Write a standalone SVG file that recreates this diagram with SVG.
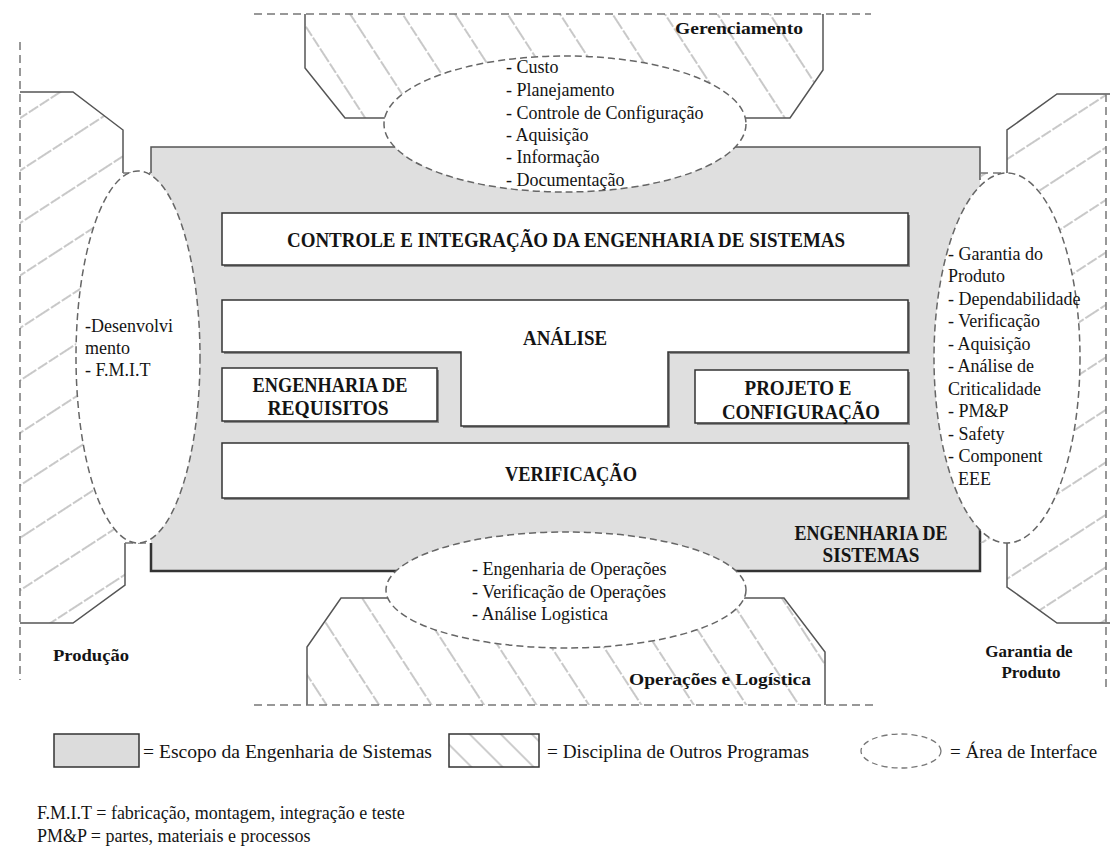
<svg xmlns="http://www.w3.org/2000/svg" width="1110" height="848" viewBox="0 0 1110 848">
<defs>
<style>
.t{font-family:"Liberation Serif","Times New Roman",serif;fill:#141414}
.l{font-size:18px}
.b{font-weight:bold}
.bx{font-size:20px;font-weight:bold;text-anchor:middle}
.lab{font-size:17px;font-weight:bold;text-anchor:middle}
.lg{font-size:19px}
.edge{fill:none;stroke:#555;stroke-width:1.5}
.dash{fill:none;stroke:#777;stroke-width:1.5;stroke-dasharray:8 5}
.ell{fill:#fff;stroke:#666;stroke-width:1.5;stroke-dasharray:7 4}
.box{fill:#fff;stroke:#333;stroke-width:1.5}
.shadow{fill:#888}
</style>
<pattern id="hBack" patternUnits="userSpaceOnUse" width="44" height="44" patternTransform="rotate(-33)">
<line x1="22" y1="0" x2="22" y2="44" stroke="#9c9c9c" stroke-width="1.1" stroke-dasharray="11 2"/>
</pattern>
<pattern id="hFwd" patternUnits="userSpaceOnUse" width="44" height="44" patternTransform="rotate(57)">
<line x1="22" y1="0" x2="22" y2="44" stroke="#9c9c9c" stroke-width="1.1" stroke-dasharray="11 2"/>
</pattern>
<pattern id="hLeg" patternUnits="userSpaceOnUse" width="22" height="22" patternTransform="rotate(-45)">
<line x1="11" y1="0" x2="11" y2="22" stroke="#9c9c9c" stroke-width="1"/>
</pattern>
</defs>
<rect width="1110" height="848" fill="#fff"/>

<g id="escopo-engenharia-sistemas">
<rect x="151" y="147" width="829" height="424" fill="#dfdfdf"/>
<path class="edge" d="M151,173 V147 H980 V180"/>
<path d="M151,543 V571 H980 V528" fill="none" stroke="#333" stroke-width="2.5"/>
</g>

<g id="gerenciamento">
<path d="M305,14 H823 V70 L790,118 H345 L305,68 Z" fill="url(#hBack)"/>
<path class="edge" d="M305,14 V68 L345,118 H386"/>
<path class="edge" d="M744,118 H790 L823,70 V14"/>
<line class="dash" x1="254" y1="14" x2="871" y2="14"/>
<text class="t lab" x="739" y="34" textLength="128" lengthAdjust="spacingAndGlyphs">Gerenciamento</text>
</g>

<g id="producao">
<path d="M20,92 H73 L123,130 V173 H151 V543 H125 V585 L73,623 H20 Z" fill="url(#hFwd)"/>
<path class="edge" d="M20,92 H73 L123,130 V173"/>
<path class="edge" d="M125,543 V585 L73,623 H20"/>
<line class="dash" x1="123" y1="173" x2="151" y2="173"/>
<line class="dash" x1="125" y1="543" x2="151" y2="543"/>
<line class="dash" x1="20" y1="42" x2="20" y2="680"/>
<text class="t lab" x="91" y="661" textLength="76" lengthAdjust="spacingAndGlyphs">Produção</text>
</g>

<g id="garantia-de-produto">
<path d="M1106,94 H1057 L1007,130 V173 H980 V543 H1007 V587 L1057,623 H1106 Z" fill="url(#hFwd)"/>
<path class="edge" d="M1110,94 H1057 L1007,130 V173"/>
<path class="edge" d="M1007,543 V587 L1057,623 H1110"/>
<line class="dash" x1="980" y1="173" x2="1007" y2="173"/>
<line class="dash" x1="1106" y1="94" x2="1106" y2="690"/>
<text class="t lab" x="1029" y="657">Garantia de</text>
<text class="t lab" x="1031" y="678">Produto</text>
</g>

<g id="operacoes-logistica">
<path d="M307,705 V647 L341,598 H784 L825,652 V705 Z" fill="url(#hBack)"/>
<path class="edge" d="M388,598 H341 L307,647 V705"/>
<path class="edge" d="M744,598 H784 L825,652 V705"/>
<line class="dash" x1="254" y1="705" x2="875" y2="705"/>
<text class="t lab" x="720" y="685" textLength="182" lengthAdjust="spacingAndGlyphs">Operações e Logística</text>
</g>

<g id="interface-gerenciamento">
<ellipse class="ell" cx="565" cy="124" rx="181" ry="68"/>
<text class="t l" x="506" y="73">- Custo</text>
<text class="t l" x="506" y="96">- Planejamento</text>
<text class="t l" x="506" y="119">- Controle de Configuração</text>
<text class="t l" x="506" y="141">- Aquisição</text>
<text class="t l" x="506" y="163">- Informação</text>
<text class="t l" x="506" y="186">- Documentação</text>
</g>

<g id="interface-producao">
<ellipse class="ell" cx="138" cy="357" rx="62" ry="186"/>
<text class="t l" x="85" y="332">-Desenvolvi</text>
<text class="t l" x="85" y="354">mento</text>
<text class="t l" x="85" y="376">- F.M.I.T</text>
</g>

<g id="interface-garantia">
<ellipse class="ell" cx="1007" cy="358" rx="73" ry="185"/>
<text class="t l" x="948" y="260">- Garantia do</text>
<text class="t l" x="948" y="282">Produto</text>
<text class="t l" x="948" y="305">- Dependabilidade</text>
<text class="t l" x="948" y="327">- Verificação</text>
<text class="t l" x="948" y="350">- Aquisição</text>
<text class="t l" x="948" y="372">- Análise de</text>
<text class="t l" x="948" y="395">Criticalidade</text>
<text class="t l" x="948" y="417">- PM&amp;P</text>
<text class="t l" x="948" y="440">- Safety</text>
<text class="t l" x="948" y="462">- Component</text>
<text class="t l" x="958" y="485">EEE</text>
</g>

<g id="interface-operacoes">
<ellipse class="ell" cx="566" cy="590" rx="180" ry="58"/>
<text class="t l" x="472" y="575">- Engenharia de Operações</text>
<text class="t l" x="472" y="598">- Verificação de Operações</text>
<text class="t l" x="472" y="620">- Análise Logistica</text>
</g>

<g id="controle-integracao">
<rect class="shadow" x="224" y="215" width="686" height="52"/>
<rect class="box" x="222" y="213" width="686" height="52"/>
<text class="t bx" x="566" y="247" textLength="558" lengthAdjust="spacingAndGlyphs">CONTROLE E INTEGRAÇÃO DA ENGENHARIA DE SISTEMAS</text>
</g>

<g id="analise">
<path class="shadow" d="M224,302 H910 V354 H670 V428 H463 V354 H224 Z"/>
<path class="box" d="M222,300 H908 V352 H668 V426 H461 V352 H222 Z"/>
<text class="t bx" x="565" y="345" textLength="84" lengthAdjust="spacingAndGlyphs">ANÁLISE</text>
</g>

<g id="engenharia-requisitos">
<rect class="shadow" x="224" y="370" width="215" height="53"/>
<rect class="box" x="222" y="368" width="215" height="53"/>
<text class="t bx" x="330" y="392" textLength="155" lengthAdjust="spacingAndGlyphs">ENGENHARIA DE</text>
<text class="t bx" x="328" y="415" textLength="121" lengthAdjust="spacingAndGlyphs">REQUISITOS</text>
</g>

<g id="projeto-configuracao">
<rect class="shadow" x="697" y="372" width="213" height="53"/>
<rect class="box" x="695" y="370" width="213" height="53"/>
<text class="t bx" x="798" y="395" textLength="107" lengthAdjust="spacingAndGlyphs">PROJETO E</text>
<text class="t bx" x="801" y="419" textLength="158" lengthAdjust="spacingAndGlyphs">CONFIGURAÇÃO</text>
</g>

<g id="verificacao">
<rect class="shadow" x="224" y="445" width="686" height="55"/>
<rect class="box" x="222" y="443" width="686" height="55"/>
<text class="t bx" x="571" y="481" textLength="132" lengthAdjust="spacingAndGlyphs">VERIFICAÇÃO</text>
</g>

<g id="rotulo-engenharia-sistemas">
<text class="t bx" x="871" y="540" textLength="153" lengthAdjust="spacingAndGlyphs">ENGENHARIA DE</text>
<text class="t bx" x="871" y="562" textLength="97" lengthAdjust="spacingAndGlyphs">SISTEMAS</text>
</g>

<g id="connectors"></g>

<g id="legenda">
<rect x="54" y="734" width="85" height="33" fill="#dcdcdc" stroke="#333" stroke-width="1.5"/>
<text class="t lg" x="143" y="758" textLength="289" lengthAdjust="spacingAndGlyphs">= Escopo da Engenharia de Sistemas</text>
<rect x="449" y="734" width="90" height="33" fill="url(#hLeg)" stroke="#333" stroke-width="1.5"/>
<text class="t lg" x="547" y="758" textLength="262" lengthAdjust="spacingAndGlyphs">= Disciplina de Outros Programas</text>
<ellipse cx="901" cy="751" rx="40" ry="17" fill="none" stroke="#777" stroke-width="1.3" stroke-dasharray="6 4"/>
<text class="t lg" x="950" y="758">= Área de Interface</text>
<text class="t l" x="37" y="819">F.M.I.T = fabricação, montagem, integração e teste</text>
<text class="t l" x="37" y="842">PM&amp;P = partes, materiais e processos</text>
</g>
</svg>
